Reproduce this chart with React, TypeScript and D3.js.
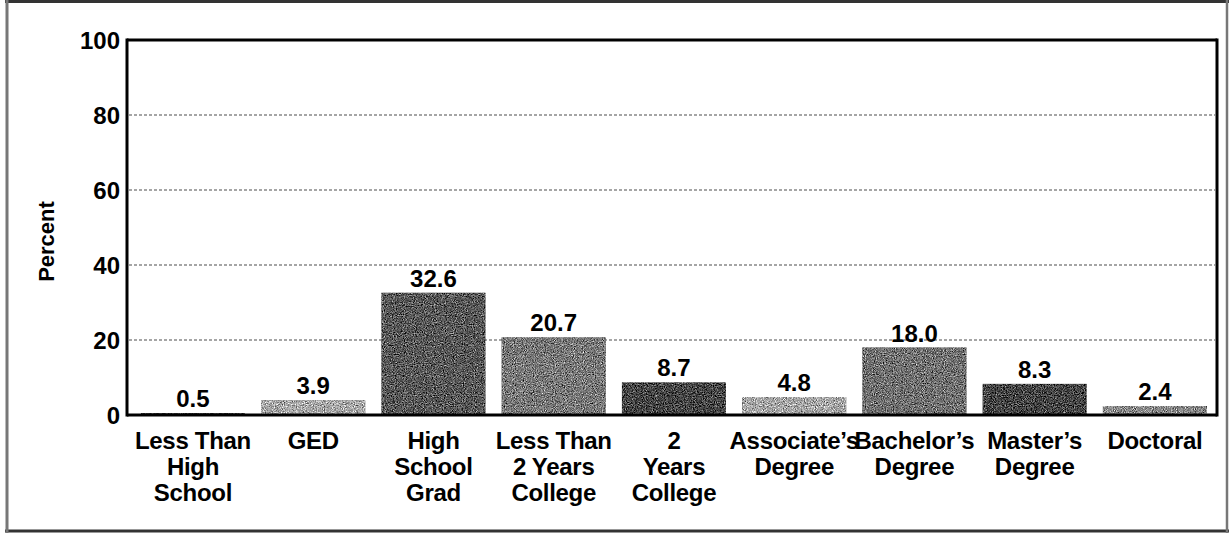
import React from "react";
import * as d3 from "d3";

const categories: string[] = [
  "Less Than|High|School",
  "GED",
  "High|School|Grad",
  "Less Than|2 Years|College",
  "2|Years|College",
  "Associate’s|Degree",
  "Bachelor’s|Degree",
  "Master’s|Degree",
  "Doctoral",
];
const values: number[] = [0.5, 3.9, 32.6, 20.7, 8.7, 4.8, 18.0, 8.3, 2.4];
const valueLabels: string[] = ["0.5", "3.9", "32.6", "20.7", "8.7", "4.8", "18.0", "8.3", "2.4"];
const barShades: string[] = ["#2a2a2a", "#ababab", "#5a5a5a", "#7a7a7a", "#474747", "#a8a8a8", "#727272", "#474747", "#8a8a8a"];
const yTicks: number[] = [0, 20, 40, 60, 80, 100];
const gridTicks: number[] = [20, 40, 60, 80];
const yLabel = "Percent";

const W = 1231;
const H = 533;
const left = 127;
const right = 1217;
const top = 40;
const bottom = 415;
const font = "'Liberation Sans', Arial, Helvetica, sans-serif";

export default function App() {
  const x = d3
    .scaleBand<number>()
    .domain(d3.range(categories.length))
    .range([left, right])
    .paddingInner(0.135)
    .paddingOuter(0.1)
    .align(0.58);
  const y = d3.scaleLinear().domain([0, 100]).range([bottom, top]);

  return (
    <svg
      width={W}
      height={H}
      style={{ position: "absolute", left: 0, top: 0, background: "#fff" }}
      fontFamily={font}
    >
      <defs>
        <filter id="grain" x="0" y="0" width="100%" height="100%" colorInterpolationFilters="sRGB">
          <feTurbulence type="fractalNoise" baseFrequency="0.9" numOctaves={2} seed={7} result="noise" />
          <feColorMatrix
            in="noise"
            type="matrix"
            values="0.33 0.33 0.33 0 0  0.33 0.33 0.33 0 0  0.33 0.33 0.33 0 0  0 0 0 0 1"
            result="gray"
          />
          <feComposite in="SourceGraphic" in2="gray" operator="arithmetic" k1={0} k2={1} k3={2.2} k4={-1.1} result="mix" />
          <feComposite in="mix" in2="SourceGraphic" operator="in" />
        </filter>
      </defs>

      {/* outer scanned frame */}
      <line x1={5} x2={1229} y1={1.5} y2={1.5} stroke="#333" strokeWidth={3} />
      <line x1={5} x2={1229} y1={531} y2={531} stroke="#333" strokeWidth={3} />
      <line x1={7} x2={7} y1={0} y2={533} stroke="#777" strokeWidth={3} />
      <line x1={1227} x2={1227} y1={0} y2={533} stroke="#777" strokeWidth={2.5} />

      {/* gridlines */}
      {gridTicks.map((t) => (
        <line
          key={"g" + t}
          x1={left + 2}
          x2={right - 2}
          y1={y(t)}
          y2={y(t)}
          stroke="#888"
          strokeWidth={1.3}
          strokeDasharray="3 2"
        />
      ))}

      {/* bars */}
      {values.map((v, i) => (
        <rect
          key={"b" + i}
          x={x(i)!}
          y={y(v)}
          width={x.bandwidth()}
          height={y(0) - y(v)}
          fill={barShades[i]}
          filter="url(#grain)"
        />
      ))}

      {/* plot frame */}
      <line x1={left} x2={left} y1={top - 1.5} y2={bottom + 1.5} stroke="#000" strokeWidth={3} />
      <line x1={right} x2={right} y1={top - 1.5} y2={bottom + 1.5} stroke="#000" strokeWidth={3} />
      <line x1={left} x2={right} y1={top} y2={top} stroke="#000" strokeWidth={3} />
      <line x1={left} x2={right} y1={bottom} y2={bottom} stroke="#000" strokeWidth={3} />

      {/* value labels */}
      {values.map((v, i) => (
        <text
          key={"v" + i}
          x={x(i)! + x.bandwidth() / 2}
          y={y(v) - 6}
          textAnchor="middle"
          fontSize={24}
          fontWeight="bold"
          fill="#000"
        >
          {valueLabels[i]}
        </text>
      ))}

      {/* y tick labels */}
      {yTicks.map((t) => (
        <text
          key={"t" + t}
          x={left - 7}
          y={y(t)}
          dy="0.36em"
          textAnchor="end"
          fontSize={24}
          fontWeight="bold"
          fill="#000"
        >
          {t}
        </text>
      ))}

      {/* y axis title */}
      <text
        transform={`translate(54, ${(top + bottom) / 2 + 14}) rotate(-90)`}
        textAnchor="middle"
        fontSize={22}
        fontWeight="bold"
        fill="#000"
      >
        {yLabel}
      </text>

      {/* category labels */}
      {categories.map((c, i) => (
        <text
          key={"c" + i}
          x={x(i)! + x.bandwidth() / 2}
          y={449}
          textAnchor="middle"
          fontSize={24}
          fontWeight="bold"
          fill="#000"
          letterSpacing={-0.3}
        >
          {c.split("|").map((line, j) => (
            <tspan key={j} x={x(i)! + x.bandwidth() / 2} dy={j === 0 ? 0 : 26}>
              {line}
            </tspan>
          ))}
        </text>
      ))}
    </svg>
  );
}
